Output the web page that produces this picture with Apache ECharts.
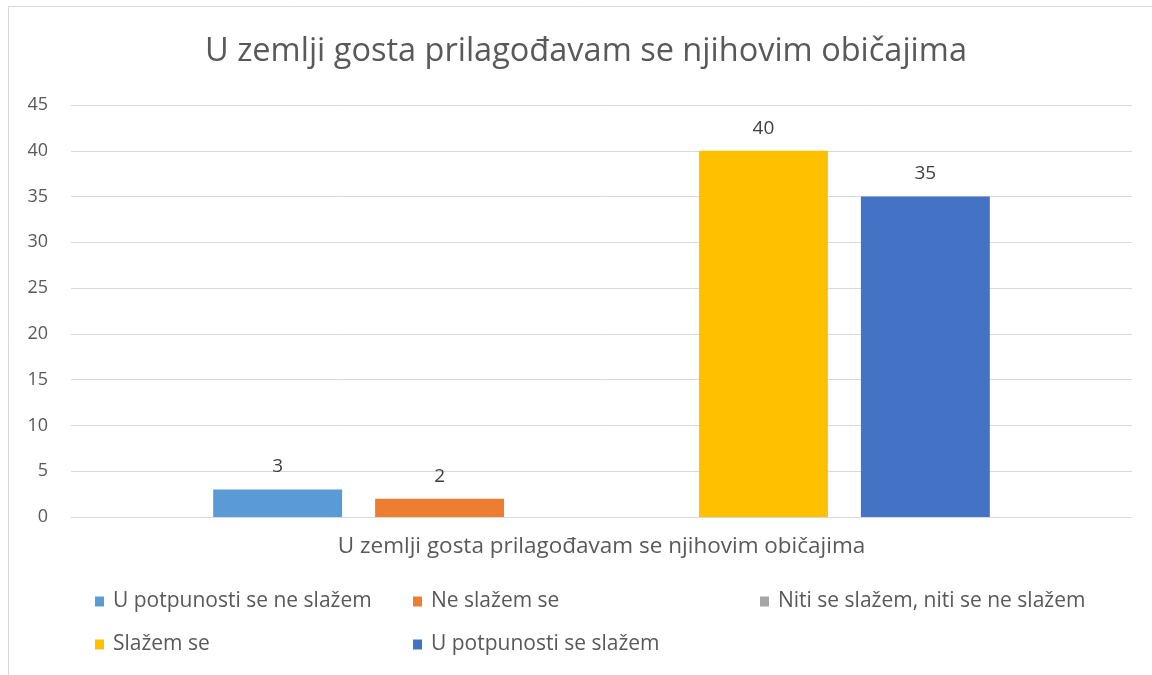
<!DOCTYPE html>
<html>
<head>
<meta charset="utf-8">
<script src="https://cdn.jsdelivr.net/npm/echarts@6/dist/echarts.min.js"></script>
<style>
  body { margin: 0; background: #fff; }
  #chart { width: 1152px; height: 675px; }
</style>
</head>
<body>
<div id="chart"></div>
<script>
var categories = ['U zemlji gosta prilagođavam se njihovim običajima']
var seriesNames = ['U potpunosti se ne slažem', 'Ne slažem se', 'Niti se slažem, niti se ne slažem', 'Slažem se', 'U potpunosti se slažem']
var seriesValues = [3, 2, null, 40, 35]
var seriesColors = ['#5B9BD5', '#ED7D31', '#A5A5A5', '#FFC000', '#4472C4']
var yTicks = { min: 0, max: 45, interval: 5 }

var font = '"Open Sans", sans-serif'
var chart = echarts.init(document.getElementById('chart'))

// legend placed item by item to mimic the two-row grid
var legendPos = [[90, 586], [408, 586], [755, 586], [90, 629], [408, 629]]
var legends = seriesNames.map(function (name, i) {
  return {
    data: [name],
    left: legendPos[i][0],
    top: legendPos[i][1],
    icon: 'rect',
    itemWidth: 9,
    itemHeight: 10,
    itemGap: 4,
    textStyle: { color: '#595959', fontSize: 21, fontFamily: font, padding: [0, 0, 0, 4] }
  }
})

var option = {
  animation: false,
  title: {
    text: 'U zemlji gosta prilagođavam se njihovim običajima',
    left: 200,
    top: 30,
    textStyle: { color: '#595959', fontSize: 32.5, fontWeight: 'normal', fontFamily: font }
  },
  legend: legends,
  graphic: [{
    type: 'rect',
    shape: { x: 8.5, y: 6.5, width: 1160, height: 700 },
    style: { fill: 'none', stroke: '#d9d9d9', lineWidth: 1 },
    silent: true
  }],
  grid: { left: 71, right: 20, top: 105, bottom: 158 },
  xAxis: {
    type: 'category',
    data: categories,
    axisTick: { show: false },
    axisLine: { lineStyle: { color: '#d9d9d9', width: 1 } },
    axisLabel: { color: '#595959', fontSize: 22.5, fontFamily: font, margin: 18 }
  },
  yAxis: {
    type: 'value',
    min: yTicks.min,
    max: yTicks.max,
    interval: yTicks.interval,
    axisLine: { show: false },
    axisTick: { show: false },
    splitLine: { lineStyle: { color: '#d9d9d9', width: 1 } },
    axisLabel: { color: '#595959', fontSize: 18, fontFamily: font, margin: 23 }
  },
  series: seriesNames.map(function (name, i) {
    return {
      name: name,
      type: 'bar',
      data: [seriesValues[i]],
      barGap: '25.6%',
      barCategoryGap: '26.8%',
      itemStyle: { color: seriesColors[i] },
      label: {
        show: true,
        position: 'top',
        distance: 13,
        color: '#404040',
        fontSize: 19,
        fontFamily: font
      }
    }
  })
}
chart.setOption(option)
</script>
</body>
</html>
